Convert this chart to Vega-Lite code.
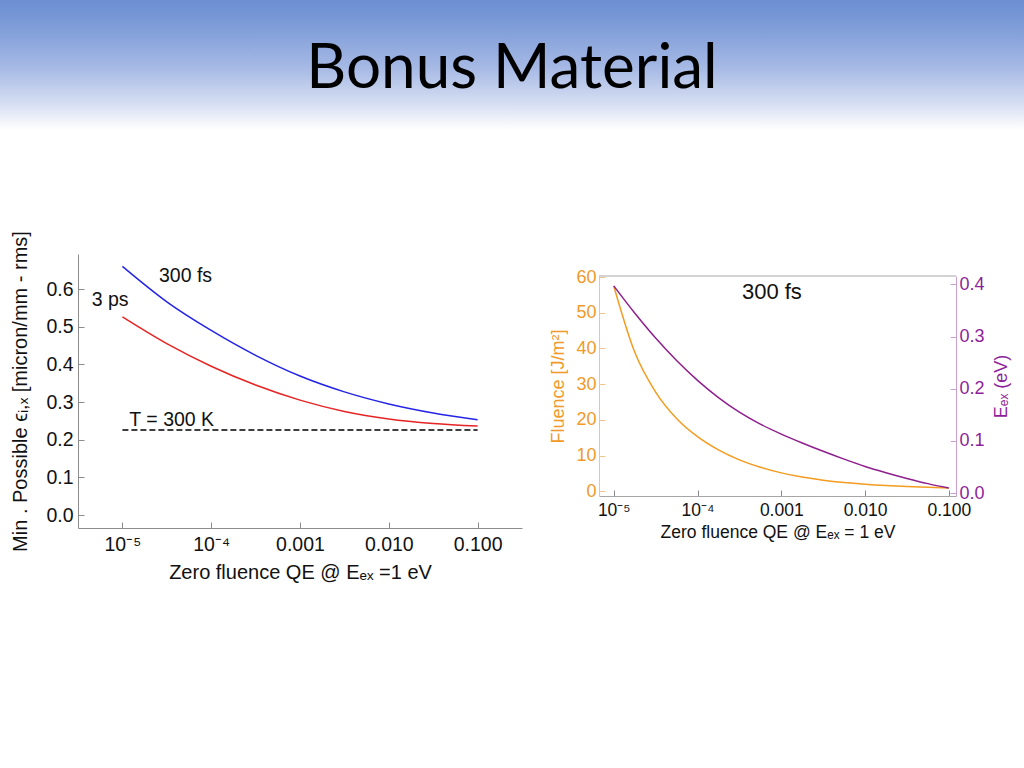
{
  "$schema": "https://vega.github.io/schema/vega-lite/v6.json",
  "padding": 0,
  "background": "white",
  "spacing": 100,
  "config": {
    "view": {"stroke": null},
    "font": "Liberation Sans",
    "axis": {
      "labelFont": "Liberation Sans",
      "titleFont": "Liberation Sans",
      "labelColor": "#111111",
      "titleColor": "#111111",
      "titleFontWeight": "normal",
      "domainColor": "#8c8c8c",
      "tickColor": "#8c8c8c",
      "grid": false
    }
  },
  "datasets": {
    "emit": [
      {"qe": 1e-5, "v": 0.660, "s": "300 fs"},
      {"qe": 3.1623e-5, "v": 0.566, "s": "300 fs"},
      {"qe": 1e-4, "v": 0.490, "s": "300 fs"},
      {"qe": 3.1623e-4, "v": 0.424, "s": "300 fs"},
      {"qe": 1e-3, "v": 0.369, "s": "300 fs"},
      {"qe": 3.1623e-3, "v": 0.327, "s": "300 fs"},
      {"qe": 1e-2, "v": 0.295, "s": "300 fs"},
      {"qe": 3.1623e-2, "v": 0.271, "s": "300 fs"},
      {"qe": 1e-1, "v": 0.253, "s": "300 fs"},
      {"qe": 1e-5, "v": 0.526, "s": "3 ps"},
      {"qe": 3.1623e-5, "v": 0.455, "s": "3 ps"},
      {"qe": 1e-4, "v": 0.395, "s": "3 ps"},
      {"qe": 3.1623e-4, "v": 0.345, "s": "3 ps"},
      {"qe": 1e-3, "v": 0.305, "s": "3 ps"},
      {"qe": 3.1623e-3, "v": 0.275, "s": "3 ps"},
      {"qe": 1e-2, "v": 0.255, "s": "3 ps"},
      {"qe": 3.1623e-2, "v": 0.243, "s": "3 ps"},
      {"qe": 1e-1, "v": 0.236, "s": "3 ps"}
    ],
    "thermal": [
      {"qe": 1e-5, "v": 0.226},
      {"qe": 1e-1, "v": 0.226}
    ],
    "leftLabels": [
      {"qe": 5.143e-5, "v": 0.618, "t": "300 fs"},
      {"qe": 7.27e-6, "v": 0.555, "t": "3 ps"},
      {"qe": 3.594e-5, "v": 0.2355, "t": "T = 300 K"}
    ],
    "fl": [
      {"qe": 1e-5, "F": 57.5, "E": 0.397},
      {"qe": 1.7783e-5, "F": 39.0, "E": 0.345},
      {"qe": 3.1623e-5, "F": 27.8, "E": 0.297},
      {"qe": 5.6234e-5, "F": 20.4, "E": 0.254},
      {"qe": 1e-4, "F": 15.3, "E": 0.216},
      {"qe": 1.7783e-4, "F": 11.6, "E": 0.183},
      {"qe": 3.1623e-4, "F": 8.82, "E": 0.155},
      {"qe": 5.6234e-4, "F": 6.74, "E": 0.132},
      {"qe": 1e-3, "F": 5.18, "E": 0.113},
      {"qe": 1.7783e-3, "F": 4.01, "E": 0.096},
      {"qe": 3.1623e-3, "F": 3.13, "E": 0.080},
      {"qe": 5.6234e-3, "F": 2.47, "E": 0.065},
      {"qe": 1e-2, "F": 1.98, "E": 0.051},
      {"qe": 1.7783e-2, "F": 1.61, "E": 0.039},
      {"qe": 3.1623e-2, "F": 1.33, "E": 0.028},
      {"qe": 5.6234e-2, "F": 1.12, "E": 0.018},
      {"qe": 1e-1, "F": 0.96, "E": 0.0095}
    ]
  },
  "vconcat": [
    {
      "width": 946,
      "height": 130,
      "layer": [
        {
          "data": {"values": [{"x0": -0.08245, "x1": 1, "y0": 0, "y1": 1}]},
          "mark": {
            "type": "rect",
            "fill": {
              "gradient": "linear", "x1": 0, "y1": 0, "x2": 0, "y2": 1,
              "stops": [
                {"offset": 0, "color": "#6D8FD3"},
                {"offset": 0.15, "color": "#7898D6"},
                {"offset": 0.5, "color": "#A3B7E4"},
                {"offset": 0.8, "color": "#D6DEF2"},
                {"offset": 1, "color": "#FFFFFF"}
              ]
            }
          },
          "encoding": {
            "x": {"field": "x0", "type": "quantitative", "scale": {"domain": [0, 1], "nice": false, "zero": false}, "axis": null},
            "x2": {"field": "x1"},
            "y": {"field": "y0", "type": "quantitative", "scale": {"domain": [0, 1], "nice": false, "zero": false}, "axis": null},
            "y2": {"field": "y1"}
          }
        },
        {
          "data": {"values": [{"tx": 0.4588, "ty": 0.323, "t": "Bonus Material"}]},
          "mark": {"type": "text", "font": "Lato", "fontSize": 62, "color": "#000000", "align": "center", "baseline": "alphabetic"},
          "encoding": {
            "x": {"field": "tx", "type": "quantitative", "axis": null},
            "y": {"field": "ty", "type": "quantitative", "axis": null},
            "text": {"field": "t"}
          }
        }
      ]
    },
    {
      "spacing": 27,
      "hconcat": [
        {
          "width": 444,
          "height": 274,
          "layer": [
            {
              "data": {"name": "emit"},
              "mark": {"type": "line", "strokeWidth": 1.5, "interpolate": "monotone"},
              "encoding": {
                "x": {
                  "field": "qe", "type": "quantitative",
                  "scale": {"type": "log", "domain": [3.1623e-6, 0.31623], "nice": false},
                  "axis": {
                    "values": [1e-5, 1e-4, 0.001, 0.01, 0.1],
                    "labelExpr": "datum.value < 5e-5 ? '10⁻⁵' : datum.value < 5e-4 ? '10⁻⁴' : format(datum.value, '.3f')",
                    "title": "Zero fluence QE @ Eₑₓ =1 eV",
                    "labelFontSize": 19.5, "titleFontSize": 20,
                    "tickSize": -6, "labelPadding": 13, "titlePadding": 9
                  }
                },
                "y": {
                  "field": "v", "type": "quantitative",
                  "scale": {"domain": [-0.0345, 0.693], "nice": false, "zero": false},
                  "axis": {
                    "values": [0, 0.1, 0.2, 0.3, 0.4, 0.5, 0.6],
                    "format": ".1f",
                    "title": "Min . Possible ϵᵢ,ₓ [micron/mm - rms]",
                    "labelFontSize": 19.5, "titleFontSize": 20,
                    "tickSize": -6, "labelPadding": 11, "titlePadding": 15
                  }
                },
                "color": {
                  "field": "s", "type": "nominal",
                  "scale": {"domain": ["300 fs", "3 ps"], "range": ["#2424E6", "#E62424"]},
                  "legend": null
                }
              }
            },
            {
              "data": {"name": "thermal"},
              "mark": {"type": "line", "color": "#000000", "strokeWidth": 1.5, "strokeDash": [6, 3]},
              "encoding": {
                "x": {"field": "qe", "type": "quantitative"},
                "y": {"field": "v", "type": "quantitative"}
              }
            },
            {
              "data": {"name": "leftLabels"},
              "mark": {"type": "text", "font": "Liberation Sans", "fontSize": 19.5, "color": "#111111", "align": "center", "baseline": "alphabetic"},
              "encoding": {
                "x": {"field": "qe", "type": "quantitative"},
                "y": {"field": "v", "type": "quantitative"},
                "text": {"field": "t"}
              }
            }
          ]
        },
        {
          "width": 357,
          "height": 242,
          "layer": [
            {
              "layer": [
                {
                  "data": {"name": "fl"},
                  "mark": {"type": "line", "color": "#F39C1F", "strokeWidth": 1.5, "interpolate": "monotone"},
                  "encoding": {
                    "x": {
                      "field": "qe", "type": "quantitative",
                      "scale": {"type": "log", "domain": [6.668e-6, 0.1219], "nice": false},
                      "axis": {
                        "values": [1e-5, 1e-4, 0.001, 0.01, 0.1],
                        "labelExpr": "datum.value < 5e-5 ? '10⁻⁵' : datum.value < 5e-4 ? '10⁻⁴' : format(datum.value, '.3f')",
                        "title": "Zero fluence QE @ Eₑₓ = 1 eV",
                        "domainColor": "#a6a6a6",
                        "labelFontSize": 17.5, "titleFontSize": 17.5,
                        "tickSize": -6, "labelPadding": 11, "titlePadding": 5
                      }
                    },
                    "y": {
                      "field": "F", "type": "quantitative",
                      "scale": {"domain": [-1.3, 60.3], "range": [242, 22], "nice": false, "zero": false},
                      "axis": {
                        "values": [0, 10, 20, 30, 40, 50, 60],
                        "title": "Fluence [J/m²]",
                        "labelColor": "#F09A2A", "titleColor": "#F09A2A",
                        "domainColor": "#EFC692", "tickColor": "#EFC692",
                        "labelFontSize": 18, "titleFontSize": 18,
                        "tickSize": -6, "labelPadding": 9, "titlePadding": 8
                      }
                    }
                  }
                },
                {
                  "data": {"values": [{"F": 60.3}]},
                  "mark": {"type": "rule", "color": "#a6a6a6", "strokeWidth": 1},
                  "encoding": {
                    "y": {"field": "F", "type": "quantitative"}
                  }
                },
                {
                  "data": {"values": [{"qe": 7.73e-4, "F": 53.8, "t": "300 fs"}]},
                  "mark": {"type": "text", "font": "Liberation Sans", "fontSize": 22, "color": "#111111", "align": "center", "baseline": "alphabetic"},
                  "encoding": {
                    "x": {"field": "qe", "type": "quantitative"},
                    "y": {"field": "F", "type": "quantitative"},
                    "text": {"field": "t"}
                  }
                }
              ]
            },
            {
              "data": {"name": "fl"},
              "mark": {"type": "line", "color": "#8E1F8E", "strokeWidth": 1.5, "interpolate": "monotone"},
              "encoding": {
                "x": {"field": "qe", "type": "quantitative"},
                "y": {
                  "field": "E", "type": "quantitative",
                  "scale": {"domain": [-0.0057, 0.416], "range": [242, 22], "nice": false, "zero": false},
                  "axis": {
                    "orient": "right",
                    "values": [0, 0.1, 0.2, 0.3, 0.4],
                    "format": ".1f",
                    "title": "Eₑₓ (eV)",
                    "titleAngle": 270,
                    "titleBaseline": "top",
                    "labelColor": "#8E1F9A", "titleColor": "#8E1F9A",
                    "domainColor": "#C9A0D0", "tickColor": "#C9A0D0",
                    "labelFontSize": 18, "titleFontSize": 18,
                    "tickSize": -6, "labelPadding": 9, "titlePadding": 8
                  }
                }
              }
            }
          ],
          "resolve": {"scale": {"y": "independent"}}
        }
      ]
    }
  ]
}
